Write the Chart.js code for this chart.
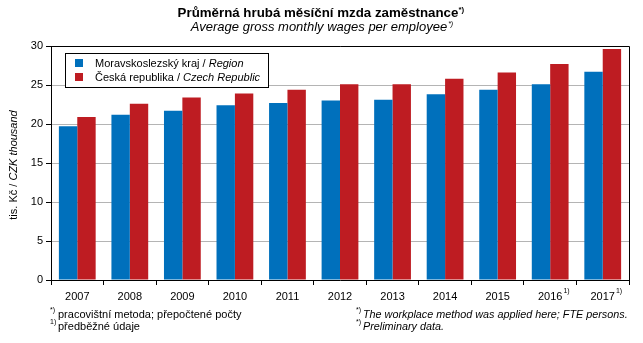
<!DOCTYPE html>
<html>
<head>
<meta charset="utf-8">
<script src="https://cdn.jsdelivr.net/npm/chart.js@4"></script>
<style>
  html, body { margin: 0; padding: 0; background: #fff; }
  #wrap { width: 643px; height: 343px; position: relative; }
</style>
</head>
<body>
<div id="wrap"><canvas id="mzdy" width="643" height="343"></canvas></div>
<script>
const roky = ['2007', '2008', '2009', '2010', '2011', '2012', '2013', '2014', '2015', '2016', '2017'];
const predbezne = ['2016', '2017'];
const kraj = [19.7, 21.2, 21.7, 22.4, 22.7, 23.0, 23.1, 23.8, 24.4, 25.1, 26.7];
const cr = [20.9, 22.6, 23.4, 23.9, 24.4, 25.1, 25.1, 25.8, 26.6, 27.7, 29.6];
const nazvyCz = ['Moravskoslezský kraj / ', 'Česká republika / '];
const nazvyEn = ['Region', 'Czech Republic'];
const barvy = ['#0070BC', '#BE1C22'];

const FONT = '"Liberation Sans", Arial, sans-serif';

// vypise text slozeny z casti s ruznym fontem
function kresliRuns(ctx, x, y, runs) {
    let cx = x;
    runs.forEach(r => {
        ctx.font = r[1];
        ctx.fillText(r[0], cx, y);
        cx += ctx.measureText(r[0]).width;
    });
    return cx;
}
function sirkaRuns(ctx, runs) {
    let w = 0;
    runs.forEach(r => { ctx.font = r[1]; w += ctx.measureText(r[0]).width; });
    return w;
}

const popisky = {
    id: 'popisky',
    afterDraw(chart) {
        const ctx = chart.ctx;
        const a = chart.chartArea;
        ctx.save();
        ctx.fillStyle = '#000';
        ctx.textBaseline = 'alphabetic';

        // ramecek nahore a vpravo
        ctx.strokeStyle = '#000';
        ctx.lineWidth = 1;
        ctx.beginPath();
        ctx.moveTo(a.left, Math.round(a.top) + 0.5);
        ctx.lineTo(Math.round(a.right) + 0.5, Math.round(a.top) + 0.5);
        ctx.lineTo(Math.round(a.right) + 0.5, a.bottom);
        ctx.stroke();

        // nadpis
        const t1 = [['Průměrná hrubá měsíční mzda zaměstnance', 'bold 13.3px ' + FONT]];
        const w1 = sirkaRuns(ctx, t1);
        let e = kresliRuns(ctx, 318 - w1 / 2, 17, t1);
        ctx.font = 'bold 8px ' + FONT;
        ctx.fillText('*)', e, 12);
        const t2 = [['Average gross monthly wages per employee', 'italic 13px ' + FONT]];
        const w2 = sirkaRuns(ctx, t2);
        e = kresliRuns(ctx, 319 - w2 / 2, 31, t2);
        ctx.font = 'italic 7px ' + FONT;
        ctx.fillText('*)', e + 1, 26);

        // legenda
        ctx.fillStyle = '#fff';
        ctx.fillRect(65.5, 53.5, 203, 34);
        ctx.strokeRect(65.5, 53.5, 203, 34);
        nazvyCz.forEach((n, i) => {
            const y = 63 + i * 14;
            ctx.fillStyle = barvy[i];
            ctx.fillRect(75, y - 4, 8, 8);
            ctx.fillStyle = '#000';
            kresliRuns(ctx, 95, y + 4, [[n, '11px ' + FONT], [nazvyEn[i], 'italic 11px ' + FONT]]);
        });

        // popis osy y
        ctx.save();
        ctx.translate(17, 165);
        ctx.rotate(-Math.PI / 2);
        const ty = [['tis. Kč / ', '11px ' + FONT], ['CZK thousand', 'italic 11px ' + FONT]];
        kresliRuns(ctx, -sirkaRuns(ctx, ty) / 2, 0, ty);
        ctx.restore();

        // poznamky u predbeznych roku
        const xs = chart.scales.x;
        roky.forEach((r, i) => {
            if (!predbezne.includes(r)) return;
            ctx.font = '11px ' + FONT;
            const w = ctx.measureText(r).width;
            const x = xs.getPixelForTick(i) + w / 2 + 1;
            ctx.font = '7px ' + FONT;
            ctx.fillText('1)', x, 293);
        });

        // poznamky pod grafem
        ctx.font = '7px ' + FONT;
        ctx.fillText('*)', 50, 312);
        ctx.fillText('1)', 50, 324);
        ctx.fillText('*)', 356, 312);
        ctx.fillText('*)', 356, 324);
        ctx.font = '11px ' + FONT;
        ctx.fillText('pracovištní metoda; přepočtené počty', 58, 318);
        ctx.fillText('předběžné údaje', 58, 330);
        ctx.font = 'italic 10.8px ' + FONT;
        ctx.fillText('The workplace method was applied here; FTE persons.', 363, 318);
        ctx.fillText('Preliminary data.', 363, 330);

        ctx.restore();
    }
};

new Chart(document.getElementById('mzdy'), {
    type: 'bar',
    data: {
        labels: roky,
        datasets: [{
            label: nazvyCz[0] + nazvyEn[0],
            data: kraj,
            backgroundColor: barvy[0]
        }, {
            label: nazvyCz[1] + nazvyEn[1],
            data: cr,
            backgroundColor: barvy[1]
        }]
    },
    options: {
        responsive: false,
        animation: false,
        events: [],
        layout: {
            padding: { top: 46, right: 14, left: 0, bottom: 0 }
        },
        datasets: {
            bar: {
                categoryPercentage: 0.7,
                barPercentage: 1
            }
        },
        plugins: {
            legend: { display: false },
            title: { display: false },
            tooltip: { enabled: false }
        },
        scales: {
            x: {
                afterFit: s => { s.height = 63; },
                grid: {
                    offset: true,
                    drawOnChartArea: false,
                    tickLength: 5,
                    tickColor: '#000'
                },
                border: { color: '#000' },
                ticks: {
                    color: '#000',
                    padding: 5,
                    font: { family: FONT, size: 11 },
                    maxRotation: 0
                }
            },
            y: {
                min: 0,
                max: 30,
                afterFit: s => { s.width = 51; },
                grid: {
                    color: '#b4b4b4',
                    tickColor: '#000',
                    tickLength: 5
                },
                border: { color: '#000' },
                ticks: {
                    stepSize: 5,
                    color: '#000',
                    padding: 3,
                    font: { family: FONT, size: 11 }
                }
            }
        }
    },
    plugins: [popisky]
});
</script>
</body>
</html>
